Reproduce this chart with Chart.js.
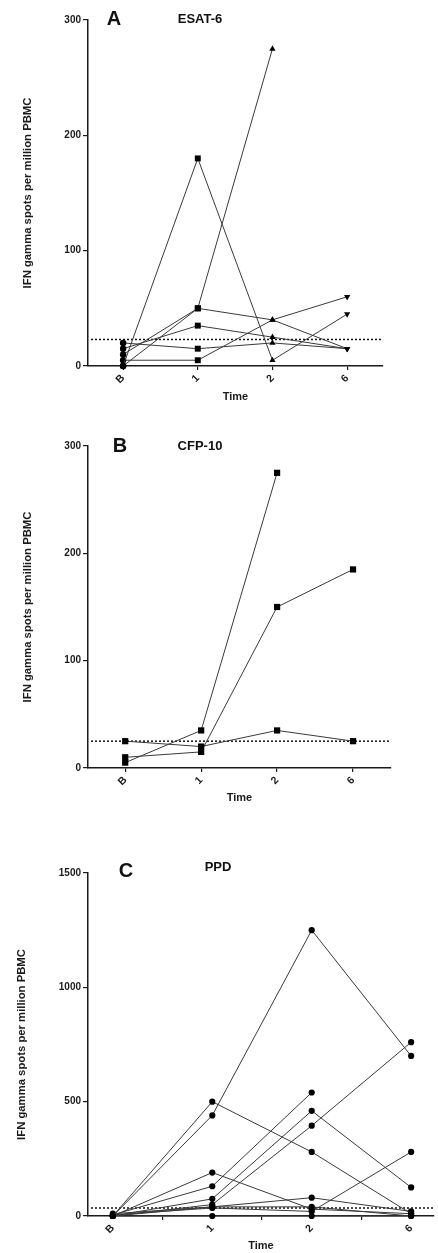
<!DOCTYPE html>
<html>
<head>
<meta charset="utf-8">
<script src="https://cdn.jsdelivr.net/npm/chart.js@4.4.1/dist/chart.umd.min.js"></script>
<style>
    body { margin: 0; background: #fff; }
    #wrap { position: relative; width: 438px; height: 1253px; overflow: hidden; }
    canvas { position: absolute; left: 0; }
    .lbl { position: absolute; width: 80px; text-align: center; line-height: 1;
           font-family: "Liberation Sans", Arial, sans-serif; font-weight: bold; color: #111; }
    .letter { font-size: 20px; }
    .ttl { font-size: 13px; }
</style>
</head>
<body>
<div id="wrap">
    <canvas id="chartA" width="438" height="410" style="top:0px"></canvas>
    <canvas id="chartB" width="438" height="400" style="top:410px"></canvas>
    <canvas id="chartC" width="438" height="443" style="top:810px"></canvas>

    <div class="lbl letter" style="left:74px; top:8px">A</div>
    <div class="lbl ttl" style="left:160px; top:12px">ESAT-6</div>
    <div class="lbl letter" style="left:80px; top:435px">B</div>
    <div class="lbl ttl" style="left:160px; top:439px">CFP-10</div>
    <div class="lbl letter" style="left:86px; top:860px">C</div>
    <div class="lbl ttl" style="left:178px; top:860px">PPD</div>
</div>

<script>
// time points (x axis)
const timeLabels = ["B", "1", "2", "6"];

// A - ESAT-6, one array per subject
const esat1 = [0, 180, 5, 45];
const esat2 = [10, 50, 275, null];
const esat3 = [0, 50, 40, 15];
const esat4 = [5, 5, 40, 60];
const esat5 = [15, 35, 25, 15];
const esat6 = [20, 15, 20, 15];

// B - CFP-10
const cfp1 = [25, 20, 35, 25];
const cfp2 = [10, 15, 150, 185];
const cfp3 = [5, 35, 275, null];

// C - PPD
const ppd1 = [0, 500, 280, 10];
const ppd2 = [0, 440, 1250, 700];
const ppd3 = [0, 190, 30, 10];
const ppd4 = [5, 130, 540, null];
const ppd5 = [0, 75, 460, 125];
const ppd6 = [0, 50, 395, 760];
const ppd7 = [0, 40, 80, 20];
const ppd8 = [5, 35, 20, 280];
const ppd9 = [0, 0, 0, 0];
const ppd10 = [10, 40, 40, 0];

// cut-off (dotted line) per panel
const cutoffs = [23, 25, 35];

const yTicksA = [0, 100, 200, 300];
const yTicksC = [0, 500, 1000, 1500];

const FONT = '"Liberation Sans", Arial, sans-serif';
const INK = "#1a1a1a";

// dotted positivity cut-off across the plot
const cutoffLine = {
    id: "cutoffLine",
    beforeDatasetsDraw(chart, args, opts) {
        const { ctx, chartArea, scales } = chart;
        const y = scales.y.getPixelForValue(opts.value);
        ctx.save();
        ctx.strokeStyle = "#111";
        ctx.lineWidth = 1.5;
        ctx.setLineDash([2, 2]);
        ctx.beginPath();
        ctx.moveTo(chartArea.left + 3, y);
        ctx.lineTo(chartArea.right, y);
        ctx.stroke();
        ctx.restore();
    },
};

function makeSets(seriesList, styles, rotations, radii) {
    return seriesList.map((values) => ({
        data: values
            .map((v, i) => ({ x: i, y: v }))
            .filter((p) => p.y !== null),
        borderColor: "#3a3a3a",
        borderWidth: 1,
        pointBackgroundColor: "#000",
        pointBorderColor: "#000",
        pointBorderWidth: 0,
        pointStyle: styles,
        pointRotation: rotations,
        pointRadius: radii,
        tension: 0,
        clip: false,
    }));
}

function makeChart(id, datasets, cfg) {
    new Chart(document.getElementById(id), {
        type: "line",
        data: { datasets: datasets },
        plugins: [cutoffLine],
        options: {
            responsive: false,
            animation: false,
            layout: { padding: { top: cfg.padTop, right: cfg.padRight, left: 0, bottom: 0 } },
            plugins: {
                legend: { display: false },
                tooltip: { enabled: false },
                cutoffLine: { value: cfg.cutoff },
            },
            scales: {
                x: {
                    type: "linear",
                    min: cfg.xMin,
                    max: cfg.xMax,
                    afterBuildTicks: (axis) => {
                        axis.ticks = timeLabels.map((t, i) => ({ value: i }));
                    },
                    afterFit: (axis) => {
                        axis.height = cfg.xHeight;
                    },
                    ticks: {
                        callback: (v) => timeLabels[v],
                        minRotation: 45,
                        maxRotation: 45,
                        padding: 2,
                        color: INK,
                        font: { family: FONT, size: 10.5, weight: "bold" },
                    },
                    grid: {
                        drawOnChartArea: false,
                        offset: cfg.gridOffset,
                        tickLength: 4,
                        color: INK,
                        lineWidth: 1.2,
                    },
                    border: { color: INK, width: 1.5 },
                    title: {
                        display: true,
                        text: "Time",
                        color: INK,
                        padding: { top: 0, bottom: cfg.timePad },
                        font: { family: FONT, size: 11, weight: "bold", lineHeight: 1.2 },
                    },
                },
                y: {
                    min: 0,
                    max: cfg.yTicks[cfg.yTicks.length - 1],
                    afterBuildTicks: (axis) => {
                        axis.ticks = cfg.yTicks.map((v) => ({ value: v }));
                    },
                    afterFit: (axis) => {
                        axis.width = 88;
                    },
                    ticks: {
                        callback: (v) => String(v),
                        padding: 2,
                        color: INK,
                        font: { family: FONT, size: 10, weight: "bold" },
                    },
                    grid: {
                        drawOnChartArea: false,
                        tickLength: 5,
                        color: INK,
                        lineWidth: 1.2,
                    },
                    border: { color: INK, width: 1.5 },
                    title: {
                        display: true,
                        text: "IFN gamma spots per million PBMC",
                        color: INK,
                        padding: { top: cfg.yTitlePad, bottom: 0 },
                        font: { family: FONT, size: 11.3, weight: "bold", lineHeight: 1.2 },
                    },
                },
            },
        },
    });
}

// A: circle at B, square at 1, triangle at 2, inverted triangle at 6
makeChart(
    "chartA",
    makeSets(
        [esat1, esat2, esat3, esat4, esat5, esat6],
        ["circle", "rect", "triangle", "triangle"],
        [0, 0, 0, 180],
        [3.2, 4.2, 3.6, 3.6]
    ),
    { padTop: 20, padRight: 55, xMin: -0.47, xMax: 3.48, xHeight: 44, timePad: 6,
      gridOffset: false, yTicks: yTicksA, yTitlePad: 21, cutoff: cutoffs[0] }
);

makeChart(
    "chartB",
    makeSets([cfp1, cfp2, cfp3], "rect", 0, 4.4),
    { padTop: 36, padRight: 47, xMin: -0.49, xMax: 3.5, xHeight: 42, timePad: 5,
      gridOffset: false, yTicks: yTicksA, yTitlePad: 21, cutoff: cutoffs[1] }
);

makeChart(
    "chartC",
    makeSets([ppd1, ppd2, ppd3, ppd4, ppd5, ppd6, ppd7, ppd8, ppd9, ppd10], "circle", 0, 3.1),
    { padTop: 63, padRight: 0, xMin: -0.25, xMax: 3.23, xHeight: 37, timePad: 0,
      gridOffset: true, yTicks: yTicksC, yTitlePad: 15, cutoff: cutoffs[2] }
);
</script>
</body>
</html>
